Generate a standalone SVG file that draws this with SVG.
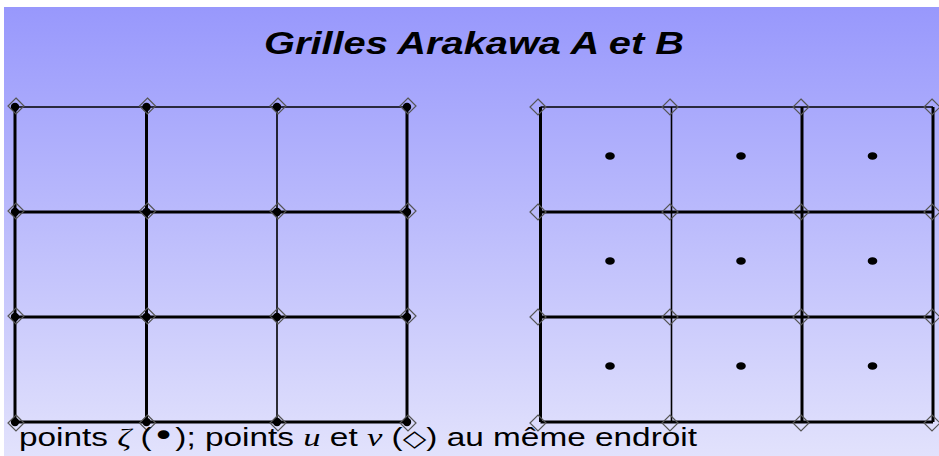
<svg xmlns="http://www.w3.org/2000/svg" xmlns:xlink="http://www.w3.org/1999/xlink" width="939" height="456" viewBox="0 0 939 456">
<defs>
<linearGradient id="bg" x1="0" y1="0" x2="0" y2="1">
<stop offset="0" stop-color="#9898fc"/>
<stop offset="1" stop-color="#e2e2fc"/>
</linearGradient>
<path id="dia" d="M0,-8 L8,0 L0,8 L-8,0 Z" fill="none" stroke="#555" stroke-width="1.2"/>
<circle id="pt" r="4.2" fill="#000"/>
<ellipse id="cd" rx="4.8" ry="3.8" fill="#000"/>
</defs>
<style>
.thin{stroke:#000;stroke-width:1.6;fill:none}
.thick{stroke:#000;stroke-width:3;fill:none}
.title{font-family:"Liberation Sans",Arial,sans-serif;font-weight:bold;font-style:italic;font-size:31px;fill:#000}
.cap{font-family:"Liberation Sans",Arial,sans-serif;font-size:25px;fill:#000}
.math{font-family:"Liberation Serif","DejaVu Serif",serif;font-style:italic;font-size:26px}
</style>
<rect x="4" y="7" width="935" height="449" fill="url(#bg)"/>
<g id="title"><text class="title" x="264" y="54" textLength="420" lengthAdjust="spacingAndGlyphs">Grilles Arakawa A et B</text></g>

<g id="grid-a">
<line class="thin" x1="15" y1="107" x2="407" y2="107"/>
<line class="thick" x1="15" y1="212" x2="407" y2="212"/>
<line class="thick" x1="15" y1="317" x2="407" y2="317"/>
<line class="thick" x1="15" y1="422" x2="407" y2="422"/>
<line class="thick" x1="15" y1="107" x2="15" y2="422"/>
<line class="thick" x1="146.5" y1="107" x2="146.5" y2="422"/>
<line class="thin" x1="277" y1="107" x2="277" y2="422"/>
<line class="thick" x1="407" y1="107" x2="407" y2="422"/>
<g id="grid-a-points">
<use xlink:href="#pt" x="15" y="107"/><use xlink:href="#pt" x="146.5" y="107"/><use xlink:href="#pt" x="277" y="107"/><use xlink:href="#pt" x="407" y="107"/>
<use xlink:href="#pt" x="15" y="212"/><use xlink:href="#pt" x="146.5" y="212"/><use xlink:href="#pt" x="277" y="212"/><use xlink:href="#pt" x="407" y="212"/>
<use xlink:href="#pt" x="15" y="317"/><use xlink:href="#pt" x="146.5" y="317"/><use xlink:href="#pt" x="277" y="317"/><use xlink:href="#pt" x="407" y="317"/>
<use xlink:href="#pt" x="15" y="422"/><use xlink:href="#pt" x="146.5" y="422"/><use xlink:href="#pt" x="277" y="422"/><use xlink:href="#pt" x="407" y="422"/>
</g>
<g id="grid-a-uv">
<use xlink:href="#dia" x="16" y="106"/><use xlink:href="#dia" x="147.5" y="106"/><use xlink:href="#dia" x="278" y="106"/><use xlink:href="#dia" x="408" y="106"/>
<use xlink:href="#dia" x="16" y="211"/><use xlink:href="#dia" x="147.5" y="211"/><use xlink:href="#dia" x="278" y="211"/><use xlink:href="#dia" x="408" y="211"/>
<use xlink:href="#dia" x="16" y="316"/><use xlink:href="#dia" x="147.5" y="316"/><use xlink:href="#dia" x="278" y="316"/><use xlink:href="#dia" x="408" y="316"/>
<use xlink:href="#dia" x="16" y="423"/><use xlink:href="#dia" x="147.5" y="423"/><use xlink:href="#dia" x="278" y="423"/><use xlink:href="#dia" x="408" y="423"/>
</g>
</g>

<g id="grid-b">
<line class="thin" x1="540.5" y1="107" x2="933" y2="107"/>
<line class="thick" x1="540.5" y1="212" x2="933" y2="212"/>
<line class="thick" x1="540.5" y1="317" x2="933" y2="317"/>
<line class="thick" x1="540.5" y1="422" x2="933" y2="422"/>
<line class="thick" x1="540.5" y1="107" x2="540.5" y2="422"/>
<line class="thin" x1="671.5" y1="107" x2="671.5" y2="422"/>
<line class="thick" x1="802" y1="107" x2="802" y2="422"/>
<line class="thick" x1="933" y1="107" x2="933" y2="422"/>
<g id="grid-b-uv">
<use xlink:href="#dia" x="538" y="107"/><use xlink:href="#dia" x="670" y="107"/><use xlink:href="#dia" x="801" y="107"/><use xlink:href="#dia" x="932" y="107"/>
<use xlink:href="#dia" x="538" y="212"/><use xlink:href="#dia" x="670" y="212"/><use xlink:href="#dia" x="801" y="212"/><use xlink:href="#dia" x="932" y="212"/>
<use xlink:href="#dia" x="538" y="317"/><use xlink:href="#dia" x="670" y="317"/><use xlink:href="#dia" x="801" y="317"/><use xlink:href="#dia" x="932" y="317"/>
<use xlink:href="#dia" x="538" y="423"/><use xlink:href="#dia" x="670" y="423"/><use xlink:href="#dia" x="801" y="423"/><use xlink:href="#dia" x="932" y="423"/>
</g>
<g id="grid-b-points">
<use xlink:href="#cd" x="610" y="156"/><use xlink:href="#cd" x="741" y="156"/><use xlink:href="#cd" x="872.5" y="156"/>
<use xlink:href="#cd" x="610" y="261"/><use xlink:href="#cd" x="741" y="261"/><use xlink:href="#cd" x="872.5" y="261"/>
<use xlink:href="#cd" x="610" y="366"/><use xlink:href="#cd" x="741" y="366"/><use xlink:href="#cd" x="872.5" y="366"/>
</g>
</g>

<g id="caption"><text class="cap" x="19" y="446" textLength="678" lengthAdjust="spacingAndGlyphs">points <tspan class="math">ζ</tspan> (<tspan font-family="'DejaVu Sans',sans-serif" font-size="30">•</tspan>); points <tspan class="math">u</tspan> et <tspan class="math">v</tspan> (<tspan font-family="'DejaVu Sans',sans-serif" font-size="23">◇</tspan>) au même endroit</text></g>
</svg>
